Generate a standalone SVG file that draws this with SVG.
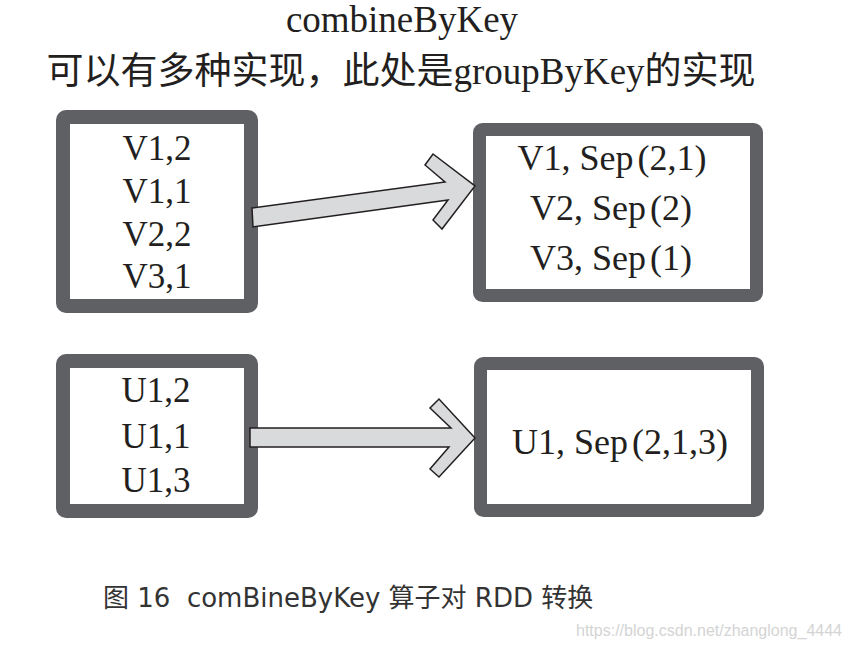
<svg xmlns="http://www.w3.org/2000/svg" width="852" height="648" viewBox="0 0 852 648">
  <style>
    .box { fill: #ffffff; stroke: #5f6064; stroke-linejoin: round; }
    .t { font-family: "Liberation Serif", "Noto Sans CJK SC", serif; fill: #231f20; text-anchor: middle; }
    .node { font-size: 35px; }
    .wide { font-size: 36px; }
    .head { font-size: 37px; }
    .arrow { fill: #d9dadc; stroke: #231f20; stroke-width: 1.5; stroke-linejoin: miter; }
    .cap { font-family: "DejaVu Sans", "Noto Sans CJK SC", sans-serif; font-size: 26px; fill: #333333; white-space: pre; }
    .wm { font-family: "Liberation Sans", Arial, sans-serif; font-size: 16px; fill: #d4d4d4; text-anchor: end; }
  </style>
  <rect width="852" height="648" fill="#ffffff"/>

  <g id="title">
    <text class="t head" x="402" y="32">combineByKey</text>
    <text class="t head" x="401" y="84">可以有多种实现，此处是groupByKey的实现</text>
  </g>

  <g id="node-v-input">
    <rect class="box" x="63" y="117" width="188" height="189" rx="3" stroke-width="14"/>
    <text class="t node" x="157" y="160">V1,2</text>
    <text class="t node" x="157" y="203">V1,1</text>
    <text class="t node" x="157" y="246">V2,2</text>
    <text class="t node" x="157" y="288">V3,1</text>
  </g>

  <g id="node-v-output">
    <rect class="box" x="479.5" y="129.5" width="277" height="166" rx="3" stroke-width="13"/>
    <text class="t wide" x="612" y="170">V1, Sep<tspan dx="4">(2,1)</tspan></text>
    <text class="t wide" x="611" y="220">V2, Sep<tspan dx="4">(2)</tspan></text>
    <text class="t wide" x="611" y="270">V3, Sep<tspan dx="4">(1)</tspan></text>
  </g>

  <g id="node-u-input">
    <rect class="box" x="63" y="361" width="188" height="150" rx="3" stroke-width="14"/>
    <text class="t node" x="156" y="402">U1,2</text>
    <text class="t node" x="156" y="448">U1,1</text>
    <text class="t node" x="156" y="492">U1,3</text>
  </g>

  <g id="node-u-output">
    <rect class="box" x="480.5" y="363.5" width="277" height="147" rx="3" stroke-width="13"/>
    <text class="t wide" x="620" y="454">U1, Sep<tspan dx="4">(2,1,3)</tspan></text>
  </g>

  <g id="connectors">
    <polygon class="arrow" points="252,208 445,182 425,165 433,154 475,186 442,229 433,220 448,200 253,227"/>
    <polygon class="arrow" points="250,428 451,428 430,408 439,399 475,438 439,477 430,469 449,447 250,447"/>
  </g>

  <g id="caption">
    <text class="cap" x="103" y="607" xml:space="preserve">图 16  comBineByKey 算子对 RDD 转换</text>
    <text class="wm" x="842" y="636">https://blog.csdn.net/zhanglong_4444</text>
  </g>
</svg>
